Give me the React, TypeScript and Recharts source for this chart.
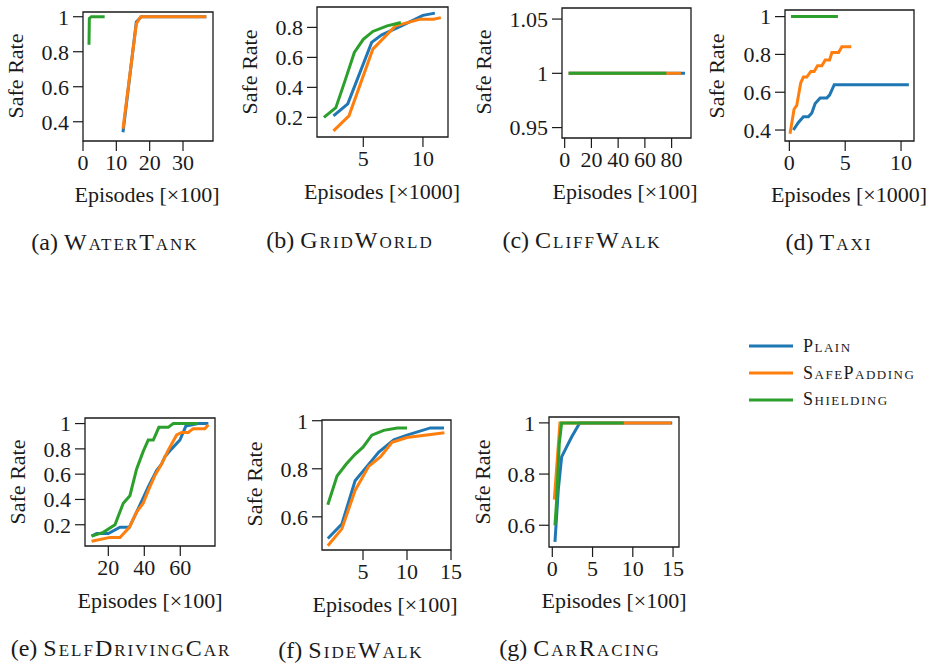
import { LineChart, Line, XAxis, YAxis, ReferenceArea } from 'recharts'
import type { CSSProperties, ReactNode } from 'react'

type Pt = { x: number; y: number }

const PLAIN = '#1f77b4'
const PADDING = '#ff7f0e'
const SHIELD = '#2ca02c'
const INK = '#1a1a1a'
const FONT = 'Liberation Serif, Times New Roman, DejaVu Serif, Noto Serif, serif'

const p = (x: number, y: number): Pt => ({ x, y })

// (a) WaterTank, episodes x100
const waterTankPlain = [p(12, 0.34), p(16, 0.97), p(17.5, 1), p(37, 1)]
const waterTankPadding = [p(12, 0.36), p(16, 0.96), p(17.3, 1), p(37, 1)]
const waterTankShield = [p(1.8, 0.84), p(1.9, 0.99), p(2.5, 1), p(6.5, 1)]

// (b) GridWorld, episodes x1000
const gridWorldPlain = [p(2.5, 0.21), p(3.7, 0.29), p(5.7, 0.7), p(6.55, 0.75), p(8.2, 0.81), p(10, 0.88), p(11, 0.895)]
const gridWorldPadding = [p(2.5, 0.11), p(3.8, 0.21), p(5.8, 0.655), p(7.7, 0.81), p(9.8, 0.855), p(10.9, 0.855), p(11.5, 0.865)]
const gridWorldShield = [p(1.7, 0.2), p(2.7, 0.265), p(3.45, 0.44), p(4.25, 0.633), p(5, 0.72), p(5.8, 0.773), p(7, 0.81), p(8.15, 0.833)]

// (c) CliffWalk, episodes x100
const cliffWalkPlain = [p(3, 1), p(90, 1)]
const cliffWalkPadding = [p(3, 1), p(87, 1)]
const cliffWalkShield = [p(3, 1), p(76, 1)]

// (d) Taxi, episodes x1000
const taxiPlain = [
  p(0.36, 0.4), p(0.81, 0.44), p(1.26, 0.47), p(1.71, 0.47), p(2.01, 0.49), p(2.31, 0.54),
  p(2.76, 0.57), p(3.36, 0.57), p(3.6, 0.585), p(4.02, 0.64), p(10.7, 0.64),
]
const taxiPadding = [
  p(0.06, 0.38), p(0.42, 0.51), p(0.66, 0.53), p(0.81, 0.58), p(1.02, 0.65), p(1.26, 0.68),
  p(1.56, 0.68), p(1.92, 0.71), p(2.22, 0.71), p(2.52, 0.74), p(2.91, 0.74), p(3.21, 0.77),
  p(3.6, 0.77), p(3.81, 0.81), p(4.41, 0.81), p(4.7, 0.84), p(5.54, 0.84),
]
const taxiShield = [p(0.15, 1), p(4.35, 1)]

// (e) SelfDrivingCar, episodes x100
const selfDrivingPlain = [
  p(10.7, 0.11), p(13.5, 0.13), p(20, 0.13), p(26.5, 0.18), p(31.7, 0.18), p(36.7, 0.33),
  p(42.2, 0.5), p(46.9, 0.63), p(49.6, 0.68), p(51.5, 0.74), p(55.2, 0.8), p(59.8, 0.87),
  p(63.1, 0.98), p(70, 1), p(75.6, 1),
]
const selfDrivingPadding = [
  p(10.7, 0.07), p(20.9, 0.1), p(26.5, 0.1), p(31.7, 0.18), p(35.7, 0.3), p(39.4, 0.37),
  p(42.2, 0.47), p(45.9, 0.59), p(49.6, 0.68), p(53.3, 0.79), p(58, 0.91), p(60.7, 0.93),
  p(64.4, 0.93), p(67.2, 0.96), p(73.7, 0.96), p(75.6, 0.99),
]
const selfDrivingShield = [
  p(10.7, 0.11), p(17.2, 0.14), p(23.7, 0.2), p(28.3, 0.37), p(32, 0.43), p(35.7, 0.64),
  p(39.4, 0.78), p(42.2, 0.87), p(45, 0.87), p(48.1, 0.97), p(53.3, 0.97), p(56.1, 1), p(70, 1),
]

// (f) SideWalk, episodes x100
const sideWalkPlain = [p(1, 0.51), p(2.6, 0.57), p(4.1, 0.75), p(5.45, 0.81), p(6.8, 0.87), p(8.5, 0.92), p(10, 0.94), p(12.65, 0.97), p(14.2, 0.97)]
const sideWalkPadding = [p(1, 0.48), p(2.6, 0.55), p(4.1, 0.71), p(5.65, 0.81), p(7, 0.85), p(8.3, 0.91), p(10, 0.93), p(14.25, 0.95)]
const sideWalkShield = [p(1, 0.65), p(2.05, 0.77), p(3.1, 0.82), p(4.1, 0.86), p(5, 0.89), p(6, 0.94), p(7.35, 0.96), p(8.9, 0.97), p(10, 0.97)]

// (g) CarRacing, episodes x100
const carRacingPlain = [p(0.33, 0.535), p(0.74, 0.737), p(1.16, 0.867), p(1.78, 0.906), p(2.4, 0.945), p(3.22, 0.99), p(3.43, 1), p(14.9, 1)]
const carRacingPadding = [p(0.25, 0.7), p(0.95, 1), p(14.8, 1)]
const carRacingShield = [p(0.33, 0.6), p(0.54, 0.698), p(0.87, 0.92), p(1.16, 1), p(8.88, 1)]

type PanelProps = {
  box: { l: number; t: number; w: number; h: number }
  xDomain: [number, number]
  yDomain: [number, number]
  xTicks: number[]
  yTicks: number[]
  plain: Pt[]
  padding: Pt[]
  shield: Pt[]
}

const tickStyle = { fill: INK, fontSize: 22, fontFamily: FONT }
const M = { top: 15, right: 20, left: 0, bottom: 0 }
const YW = 60
const XH = 45

function Panel({ box, xDomain, yDomain, xTicks, yTicks, plain, padding, shield }: PanelProps) {
  const style: CSSProperties = { position: 'absolute', left: box.l - YW, top: box.t - M.top }
  return (
    <div style={style}>
      <LineChart width={box.w + YW + M.right} height={box.h + M.top + XH} margin={M}>
        <XAxis
          type="number"
          dataKey="x"
          domain={xDomain}
          ticks={xTicks}
          interval={0}
          allowDataOverflow
          height={XH}
          axisLine={false}
          tickLine={{ stroke: INK, strokeWidth: 1.2 }}
          tickSize={10}
          tickMargin={3}
          tick={tickStyle}
          tickFormatter={(v) => String(v)}
        />
        <YAxis
          type="number"
          dataKey="y"
          domain={yDomain}
          ticks={yTicks}
          interval={0}
          allowDataOverflow
          width={YW}
          axisLine={false}
          tickLine={{ stroke: INK, strokeWidth: 1.2 }}
          tickSize={10}
          tickMargin={4}
          tick={tickStyle}
          tickFormatter={(v) => String(v)}
        />
        <Line data={plain} dataKey="y" type="linear" stroke={PLAIN} strokeWidth={3} dot={false} isAnimationActive={false} />
        <Line data={padding} dataKey="y" type="linear" stroke={PADDING} strokeWidth={3} dot={false} isAnimationActive={false} />
        <Line data={shield} dataKey="y" type="linear" stroke={SHIELD} strokeWidth={3} dot={false} isAnimationActive={false} />
        <ReferenceArea
          x1={xDomain[0]}
          x2={xDomain[1]}
          y1={yDomain[0]}
          y2={yDomain[1]}
          fill="none"
          fillOpacity={0}
          stroke={INK}
          strokeWidth={1.3}
        />
      </LineChart>
    </div>
  )
}

function Txt({ x, y, size = 22, rotate = false, children }: { x: number; y: number; size?: number; rotate?: boolean; children: ReactNode }) {
  return (
    <div
      style={{
        position: 'absolute',
        left: x,
        top: y,
        transform: `translate(-50%, -50%)${rotate ? ' rotate(-90deg)' : ''}`,
        whiteSpace: 'nowrap',
        fontFamily: FONT,
        fontSize: size,
        color: INK,
        lineHeight: 1,
      }}
    >
      {children}
    </div>
  )
}

const sc: CSSProperties = { fontVariant: 'small-caps', letterSpacing: 2 }

function Caption({ x, y, tag, name }: { x: number; y: number; tag: string; name: string }) {
  return (
    <Txt x={x} y={y} size={24}>
      ({tag}) <span style={sc}>{name}</span>
    </Txt>
  )
}

const legendItems = [
  { name: 'Plain', color: PLAIN },
  { name: 'SafePadding', color: PADDING },
  { name: 'Shielding', color: SHIELD },
]

export default function App() {
  return (
    <div style={{ position: 'absolute', left: 0, top: 0, width: 932, height: 666, background: '#fff', overflow: 'hidden' }}>
      <Panel box={{ l: 83, t: 12, w: 130, h: 129 }} xDomain={[0, 39]} yDomain={[0.29, 1.027]} xTicks={[0, 10, 20, 30]} yTicks={[0.4, 0.6, 0.8, 1]} plain={waterTankPlain} padding={waterTankPadding} shield={waterTankShield} />
      <Panel box={{ l: 317, t: 7, w: 131, h: 130 }} xDomain={[1.12, 12.1]} yDomain={[0.069, 0.936]} xTicks={[5, 10]} yTicks={[0.2, 0.4, 0.6, 0.8]} plain={gridWorldPlain} padding={gridWorldPadding} shield={gridWorldShield} />
      <Panel box={{ l: 562, t: 8, w: 129, h: 130 }} xDomain={[-2, 94.5]} yDomain={[0.9404, 1.0602]} xTicks={[0, 20, 40, 60, 80]} yTicks={[0.95, 1, 1.05]} plain={cliffWalkPlain} padding={cliffWalkPadding} shield={cliffWalkShield} />
      <Panel box={{ l: 785, t: 10, w: 129, h: 131 }} xDomain={[-0.39, 11.16]} yDomain={[0.342, 1.035]} xTicks={[0, 5, 10]} yTicks={[0.4, 0.6, 0.8, 1]} plain={taxiPlain} padding={taxiPadding} shield={taxiShield} />
      <Panel box={{ l: 85, t: 418, w: 130, h: 128 }} xDomain={[7.04, 79.3]} yDomain={[0.032, 1.044]} xTicks={[20, 40, 60]} yTicks={[0.2, 0.4, 0.6, 0.8, 1]} plain={selfDrivingPlain} padding={selfDrivingPadding} shield={selfDrivingShield} />
      <Panel box={{ l: 322, t: 420, w: 129, h: 130 }} xDomain={[0.34, 15]} yDomain={[0.462, 1.003]} xTicks={[5, 10, 15]} yTicks={[0.6, 0.8, 1]} plain={sideWalkPlain} padding={sideWalkPadding} shield={sideWalkShield} />
      <Panel box={{ l: 549, t: 417, w: 130, h: 130 }} xDomain={[-0.41, 15.74]} yDomain={[0.515, 1.023]} xTicks={[0, 5, 10, 15]} yTicks={[0.6, 0.8, 1]} plain={carRacingPlain} padding={carRacingPadding} shield={carRacingShield} />

      <Txt x={16} y={76} rotate>Safe Rate</Txt>
      <Txt x={250} y={72} rotate>Safe Rate</Txt>
      <Txt x={484} y={72} rotate>Safe Rate</Txt>
      <Txt x={717} y={76} rotate>Safe Rate</Txt>
      <Txt x={18} y={482} rotate>Safe Rate</Txt>
      <Txt x={255} y={484} rotate>Safe Rate</Txt>
      <Txt x={483} y={482} rotate>Safe Rate</Txt>

      <Txt x={147} y={195}>Episodes [×100]</Txt>
      <Txt x={382} y={192}>Episodes [×1000]</Txt>
      <Txt x={625} y={192}>Episodes [×100]</Txt>
      <Txt x={849} y={195}>Episodes [×1000]</Txt>
      <Txt x={150} y={601}>Episodes [×100]</Txt>
      <Txt x={385} y={605}>Episodes [×100]</Txt>
      <Txt x={614} y={601}>Episodes [×100]</Txt>

      <Caption x={115} y={242} tag="a" name="WaterTank" />
      <Caption x={350} y={240} tag="b" name="GridWorld" />
      <Caption x={582} y={240} tag="c" name="CliffWalk" />
      <Caption x={829} y={242} tag="d" name="Taxi" />
      <Caption x={121} y={648} tag="e" name="SelfDrivingCar" />
      <Caption x={351} y={650} tag="f" name="SideWalk" />
      <Caption x={580} y={648} tag="g" name="CarRacing" />

      <div style={{ position: 'absolute', left: 749, top: 333, fontFamily: FONT, fontSize: 18, color: INK }}>
        {legendItems.map((it) => (
          <div key={it.name} style={{ display: 'flex', alignItems: 'center', height: 26.8 }}>
            <svg width={44} height={4} style={{ marginRight: 10 }}>
              <line x1={0} y1={2} x2={44} y2={2} stroke={it.color} strokeWidth={3} />
            </svg>
            <span style={{ ...sc, letterSpacing: 1.5 }}>{it.name}</span>
          </div>
        ))}
      </div>
    </div>
  )
}
